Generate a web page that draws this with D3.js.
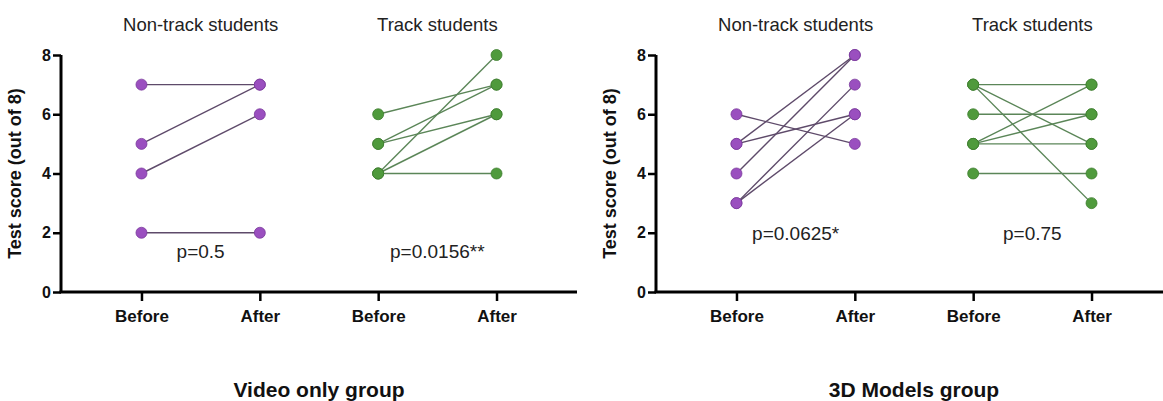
<!DOCTYPE html>
<html>
<head>
<meta charset="utf-8">
<script src="https://cdn.jsdelivr.net/npm/d3@7"></script>
<style>
  body { margin: 0; background: #fff; }
  text { font-family: "Liberation Sans", Arial, Helvetica, sans-serif; }
</style>
</head>
<body>
<svg id="chart" width="1163" height="401"></svg>
<script>
// data
var groups = ["Video only group", "3D Models group"];
var subgroups = ["Non-track students", "Track students"];
var timepoints = ["Before", "After"];
var yTicks = [0, 2, 4, 6, 8];

var videoNonTrackBefore = [7, 5, 4, 2];
var videoNonTrackAfter  = [7, 7, 6, 2];
var videoTrackBefore    = [6, 5, 5, 4, 4, 4];
var videoTrackAfter     = [7, 7, 6, 8, 6, 4];

var modelsNonTrackBefore = [6, 5, 5, 4, 3, 3];
var modelsNonTrackAfter  = [5, 8, 6, 8, 7, 6];
var modelsTrackBefore    = [7, 7, 7, 6, 5, 5, 5, 4];
var modelsTrackAfter     = [7, 5, 3, 6, 7, 6, 5, 4];

var pLabels = [["p=0.5", "p=0.0156**"], ["p=0.0625*", "p=0.75"]];

var pairs = [
    [[videoNonTrackBefore, videoNonTrackAfter], [videoTrackBefore, videoTrackAfter]],
    [[modelsNonTrackBefore, modelsNonTrackAfter], [modelsTrackBefore, modelsTrackAfter]]
];

// styling / layout
var colors = [
    { fill: "#9a4fbf", stroke: "#7a3a9c", line: "#5e4a6a" },
    { fill: "#4f9a3c", stroke: "#3f7d30", line: "#5b8658" }
];
var panelX = [61, 656];
var panelW = 516;
var pLabelY = [[1.4, 1.4], [2.0, 2.0]];

var svg = d3.select("#chart");

var y = d3.scaleLinear().domain([0, 8]).range([292, 55]);

groups.forEach(function(groupName, gi) {
    var x0 = panelX[gi];
    var keys = [];
    subgroups.forEach(function(s, si) {
        timepoints.forEach(function(t) { keys.push(si + "|" + t); });
    });

    var x = d3.scalePoint()
        .domain(keys)
        .range([x0, x0 + panelW])
        .padding(0.68);

    var g = svg.append("g");

    // y axis
    var yAxis = g.append("g")
        .attr("transform", "translate(" + x0 + ",0)")
        .call(d3.axisLeft(y).tickValues(yTicks).tickSize(8).tickPadding(2));
    yAxis.select(".domain").attr("stroke", "#000").attr("stroke-width", 3).attr("d", "M0," + y(8) + "V" + y(0));
    yAxis.selectAll(".tick line").attr("stroke", "#000").attr("stroke-width", 2.5);
    yAxis.selectAll(".tick text")
        .attr("font-size", 16).attr("font-weight", "bold").attr("fill", "#111")
        .attr("font-family", "Liberation Sans, Arial, sans-serif");

    // x axis
    var xAxis = g.append("g")
        .attr("transform", "translate(0," + y(0) + ")")
        .call(d3.axisBottom(x).tickSize(9).tickPadding(9)
            .tickFormat(function(k) { return k.split("|")[1]; }));
    xAxis.select(".domain").attr("stroke", "#000").attr("stroke-width", 3)
        .attr("d", "M" + (x0 - 1.5) + ",0H" + (x0 + panelW));
    xAxis.selectAll(".tick line").attr("stroke", "#000").attr("stroke-width", 2.5);
    xAxis.selectAll(".tick text")
        .attr("font-size", 17).attr("font-weight", "bold").attr("fill", "#111")
        .attr("font-family", "Liberation Sans, Arial, sans-serif");

    // y label
    g.append("text")
        .attr("transform", "translate(" + (x0 - 40) + "," + y(4) + ") rotate(-90)")
        .attr("text-anchor", "middle")
        .attr("font-size", 18)
        .attr("font-weight", "bold")
        .attr("fill", "#111")
        .text("Test score (out of 8)");

    subgroups.forEach(function(subName, si) {
        var before = pairs[gi][si][0];
        var after = pairs[gi][si][1];
        var xb = x(si + "|" + timepoints[0]);
        var xa = x(si + "|" + timepoints[1]);
        var c = colors[si];

        g.append("text")
            .attr("x", (xb + xa) / 2)
            .attr("y", 31)
            .attr("text-anchor", "middle")
            .attr("font-size", 18.5)
            .attr("fill", "#222")
            .text(subName);

        g.selectAll(null)
            .data(d3.range(before.length))
            .enter()
            .append("line")
            .attr("x1", xb).attr("x2", xa)
            .attr("y1", function(i) { return y(before[i]); })
            .attr("y2", function(i) { return y(after[i]); })
            .attr("stroke", c.line)
            .attr("stroke-width", 1.4);

        var pts = [];
        before.forEach(function(v) { pts.push([xb, v]); });
        after.forEach(function(v) { pts.push([xa, v]); });

        g.selectAll(null)
            .data(pts)
            .enter()
            .append("circle")
            .attr("cx", function(d) { return d[0]; })
            .attr("cy", function(d) { return y(d[1]); })
            .attr("r", 5.5)
            .attr("fill", c.fill)
            .attr("stroke", c.stroke)
            .attr("stroke-width", 0.8);

        g.append("text")
            .attr("x", (xb + xa) / 2)
            .attr("y", y(pLabelY[gi][si]) + 7)
            .attr("text-anchor", "middle")
            .attr("font-size", 19)
            .attr("fill", "#222")
            .text(pLabels[gi][si]);
    });

    g.append("text")
        .attr("x", x0 + panelW / 2)
        .attr("y", 397)
        .attr("text-anchor", "middle")
        .attr("font-size", 21)
        .attr("font-weight", "bold")
        .attr("fill", "#111")
        .text(groupName);
});
</script>
</body>
</html>
